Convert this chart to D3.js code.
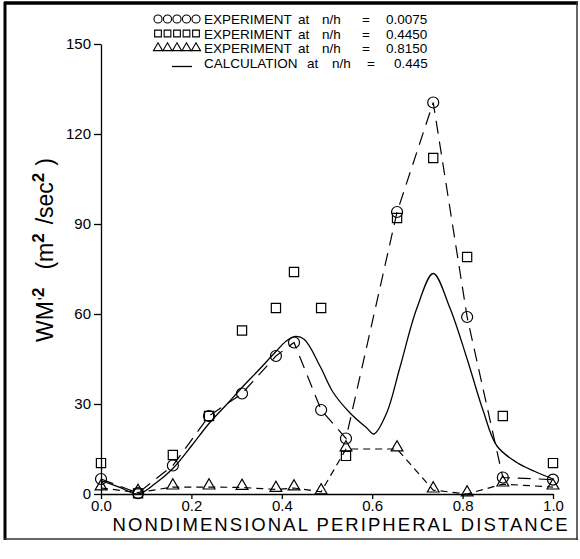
<!DOCTYPE html>
<html><head><meta charset="utf-8">
<script src="https://cdn.jsdelivr.net/npm/d3@7"></script>
<style>body{margin:0;background:#fff}</style>
</head><body><svg id="c" width="580" height="559"></svg>
<script>
// ---- data ----
const positions = [0.0, 0.082, 0.159, 0.239, 0.312, 0.387, 0.427, 0.487, 0.542, 0.655, 0.735, 0.81, 0.889, 1.0];
const expLow  = [5, 0.3, 9.5, 26, 33.5, 46, 50.5, 28, 18.5, 94, 130.5, 59, 5.5, 4.8];   // n/h = 0.0075
const expMid  = [10.3, 0.2, 13, 26, 54.5, 62, 74, 62, 12.7, 92, 112, 79, 26, 10.3];     // n/h = 0.4450
const expHigh = [2, 0.5, 2.3, 2.3, 2.2, 1.5, 2, 0.7, 15, 15, 1.3, 0, 3.3, 2.3];        // n/h = 0.8150
const calcX = [0, 0.04, 0.082, 0.12, 0.159, 0.2, 0.239, 0.279, 0.312, 0.35, 0.387, 0.41, 0.43, 0.45, 0.485, 0.513, 0.551, 0.588, 0.604, 0.632, 0.661, 0.699, 0.735, 0.772, 0.81, 0.845, 0.876, 0.92, 0.96, 1.0];
const calcY = [4.5, 2.3, 0, 3.5, 8.5, 16, 23.5, 30, 35.5, 41.5, 47.5, 51, 52.5, 51.5, 42.5, 34, 27, 22, 20, 27, 42, 62, 73.5, 62, 45, 28, 16, 10.5, 7.5, 5];
const xTicks = [0, 0.2, 0.4, 0.6, 0.8, 1.0];
const yTicks = [0, 30, 60, 90, 120, 150];
const legendLabels = ["EXPERIMENT", "EXPERIMENT", "EXPERIMENT", "CALCULATION"];
const legendValues = ["0.0075", "0.4450", "0.8150", "0.445"];

const svg = d3.select("#c");
const FONT = "'Liberation Sans', Arial, sans-serif";
const x = d3.scaleLinear().domain([0, 1]).range([101, 553]);
const y = d3.scaleLinear().domain([0, 150]).range([494, 44]);

// frame
svg.append("line").attr("x1", 5).attr("x2", 5).attr("y1", 2).attr("y2", 540).attr("stroke", "#000").attr("stroke-width", 3);
svg.append("line").attr("x1", 4).attr("x2", 578).attr("y1", 3).attr("y2", 3).attr("stroke", "#000").attr("stroke-width", 3.5);
svg.append("line").attr("x1", 4).attr("x2", 578).attr("y1", 539).attr("y2", 539).attr("stroke", "#333").attr("stroke-width", 1.5);
svg.append("line").attr("x1", 577).attr("x2", 577).attr("y1", 2).attr("y2", 540).attr("stroke", "#333").attr("stroke-width", 1.5);

// axes
const yAxis = svg.append("g").attr("transform", "translate(101,0)")
  .call(d3.axisLeft(y).tickValues(yTicks).tickSize(7).tickSizeOuter(0).tickPadding(3));
const xAxis = svg.append("g").attr("transform", "translate(0,494)")
  .call(d3.axisBottom(x).tickValues(xTicks).tickFormat(d3.format(".1f")).tickSize(5).tickSizeOuter(0).tickPadding(1));
[yAxis, xAxis].forEach(g => {
  g.selectAll("path,line").attr("stroke", "#000").attr("stroke-width", 1.3);
  g.selectAll("text").attr("font-family", FONT).attr("font-size", 15).attr("fill", "#000");
});

// x title
svg.append("text").attr("x", 340).attr("y", 531).attr("text-anchor", "middle")
  .attr("font-family", FONT).attr("font-size", 18.5).attr("textLength", 455).attr("lengthAdjust", "spacing")
  .text("NONDIMENSIONAL PERIPHERAL DISTANCE");

// y title
const yt = svg.append("text").attr("transform", "translate(53,250) rotate(-90)")
  .attr("text-anchor", "middle").attr("font-family", FONT).attr("font-size", 23);
yt.append("tspan").text("WM");
yt.append("tspan").text("'").attr("font-size", 16).attr("dy", -3).attr("dx", 1);
yt.append("tspan").text("2").attr("font-weight", "bold").attr("font-size", 17).attr("dy", -6);
yt.append("tspan").text("(m").attr("dy", 9).attr("dx", 18);
yt.append("tspan").text("2").attr("font-weight", "bold").attr("font-size", 17).attr("dy", -9);
yt.append("tspan").text("/sec").attr("dy", 9).attr("dx", 9);
yt.append("tspan").text("2").attr("font-weight", "bold").attr("font-size", 17).attr("dy", -9);
yt.append("tspan").text(")").attr("dy", 9).attr("dx", 7);

// lines
const idx = d3.range(positions.length);
const lineFn = arr => d3.line().x(i => x(positions[i])).y(i => y(arr[i]))(idx);
svg.append("path").attr("d", lineFn(expLow)).attr("fill", "none").attr("stroke", "#000")
  .attr("stroke-width", 1.2).attr("stroke-dasharray", "13,8");
svg.append("path").attr("d", lineFn(expHigh)).attr("fill", "none").attr("stroke", "#000")
  .attr("stroke-width", 1.2).attr("stroke-dasharray", "7,5");
const calcLine = d3.line().x(i => x(calcX[i])).y(i => y(calcY[i])).curve(d3.curveCatmullRom.alpha(0.5));
svg.append("path").attr("d", calcLine(d3.range(calcX.length))).attr("fill", "none").attr("stroke", "#000").attr("stroke-width", 1.3);

// markers
const sym = {
  circle: d3.symbol().type(d3.symbolCircle).size(95),
  square: d3.symbol().type(d3.symbolSquare).size(85),
  triangle: d3.symbol().type(d3.symbolTriangle).size(60)
};
function markers(arr, kind) {
  svg.append("g").selectAll("path").data(idx).join("path")
    .attr("transform", i => `translate(${x(positions[i])},${y(arr[i]) + (kind === "triangle" ? -1.5 : 0)})`)
    .attr("d", sym[kind]()).attr("fill", "none").attr("stroke", "#000").attr("stroke-width", 1.2);
}
markers(expMid, "square");
markers(expLow, "circle");
markers(expHigh, "triangle");

// legend
const rowsY = [19, 33.5, 48, 62.5];
const kinds = ["circle", "square", "triangle", null];
const lsym = {
  circle: d3.symbol().type(d3.symbolCircle).size(52),
  square: d3.symbol().type(d3.symbolSquare).size(45),
  triangle: d3.symbol().type(d3.symbolTriangle).size(36)
};
rowsY.forEach((ry, r) => {
  const g = svg.append("g");
  if (kinds[r]) {
    d3.range(5).forEach(k => {
      g.append("path").attr("transform", `translate(${158 + k * 9.5},${ry})`)
        .attr("d", lsym[kinds[r]]()).attr("fill", "none").attr("stroke", "#000").attr("stroke-width", 1.1);
    });
  } else {
    g.append("line").attr("x1", 172).attr("x2", 192).attr("y1", ry + 4).attr("y2", ry + 4).attr("stroke", "#000").attr("stroke-width", 1.3);
  }
  const t = (tx, s) => g.append("text").attr("x", tx).attr("y", ry + 5).attr("font-family", FONT).attr("font-size", 13.5).text(s);
  t(204, legendLabels[r]);
  t(r === 3 ? 307 : 298, "at");
  t(r === 3 ? 332 : 322, "n/h");
  t(r === 3 ? 367 : 362, "=");
  t(r === 3 ? 394 : 386, legendValues[r]);
});
</script></body></html>
